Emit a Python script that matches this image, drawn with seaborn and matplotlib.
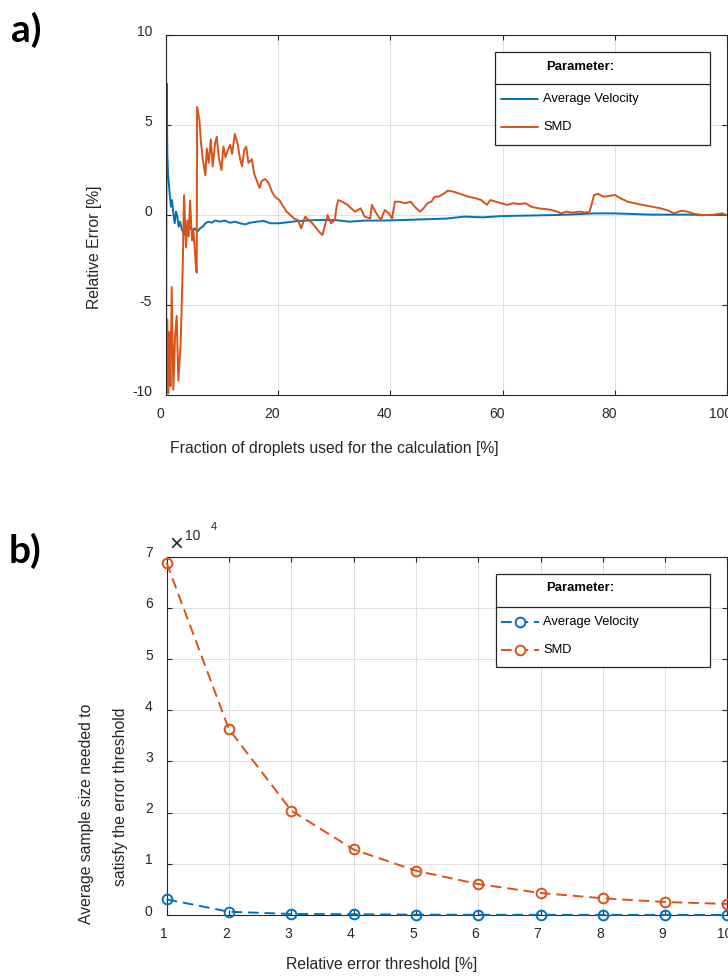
import numpy as np
import pandas as pd
import matplotlib
matplotlib.use("Agg")
import matplotlib.pyplot as plt
from matplotlib.transforms import ScaledTranslation
from matplotlib.lines import Line2D
from matplotlib.patches import Rectangle
import seaborn as sns

# ---------------- panel a: running relative error ----------------
vel_frac = [0.0, 0.12, 0.24, 0.36, 0.54, 0.71, 0.89, 1.07, 1.31, 1.55, 1.79, 2.02,
            2.26, 2.5, 2.86, 3.21, 3.69, 4.17, 4.64, 5.12, 5.6, 6.07, 6.55, 7.02,
            7.56, 8.15, 8.75, 9.64, 10.5, 11.4, 12.3, 13.2, 14.1, 15.0, 16.2, 17.4,
            18.6, 20.1, 21.55, 23.3, 25.1, 26.8, 30.1, 32.7, 35.4, 38.7, 42.0, 45.9,
            49.9, 53.2, 56.5, 59.8, 63.1, 66.4, 69.7, 73.0, 76.3, 79.6, 82.9, 86.3,
            89.6, 92.9, 96.2, 100.0]
vel_err = [-10.0, 7.3, 3.4, 2.3, 1.6, 1.0, 0.46, 0.83, 0.09, -0.46, 0.19, -0.09,
           -0.65, -0.37, -0.83, -1.1, -0.74, -0.65, -0.83, -0.74, -0.93, -0.74, -0.65, -0.46,
           -0.37, -0.43, -0.31, -0.37, -0.31, -0.43, -0.37, -0.46, -0.52, -0.43, -0.37, -0.33,
           -0.46, -0.46, -0.41, -0.34, -0.31, -0.28, -0.28, -0.37, -0.31, -0.31, -0.28, -0.24,
           -0.2, -0.09, -0.13, -0.06, -0.04, -0.02, 0.0, 0.04, 0.09, 0.09, 0.06, 0.02,
           0.02, 0.02, 0.0, 0.0]

smd_frac = [0.24, 0.4, 0.6, 0.8, 1.01, 1.31, 1.6, 1.9, 2.2, 2.62, 2.98, 3.21, 3.57,
            3.81, 4.05, 4.29, 4.64, 4.88, 5.12, 5.36, 5.48, 5.54, 5.95, 6.19, 6.55,
            7.02, 7.26, 7.62, 7.98, 8.33, 8.75, 9.05, 9.4, 9.88, 10.24, 10.6, 11.0,
            11.43, 11.79, 12.26, 12.74, 13.21, 13.57, 13.93, 14.29, 14.7, 15.3, 15.71,
            16.19, 16.67, 17.08, 17.68, 18.27, 18.87, 19.46, 20.2, 21.5, 22.8, 23.5,
            24.1, 24.8, 25.4, 26.1, 26.8, 27.3, 27.9, 28.2, 28.8, 29.4, 30.1, 30.4,
            30.7, 31.4, 32.4, 33.0, 33.7, 34.7, 35.4, 36.4, 36.7, 37.3, 38.3, 39.0,
            39.7, 40.3, 40.8, 41.6, 42.6, 43.6, 44.6, 45.3, 45.9, 46.6, 47.3, 47.9,
            48.6, 49.6, 50.2, 51.2, 52.5, 53.9, 55.2, 56.2, 57.2, 57.8, 58.8, 59.8,
            60.8, 61.8, 63.1, 64.1, 65.1, 66.4, 67.7, 68.7, 69.7, 70.4, 71.4, 72.4,
            73.7, 74.7, 75.5, 76.0, 76.3, 77.0, 78.0, 79.0, 80.0, 81.0, 82.3, 83.6,
            85.0, 86.6, 88.2, 89.6, 90.5, 91.9, 92.9, 94.2, 95.5, 96.8, 98.1, 99.1,
            100.0]
smd_err = [-5.8, -9.9, -6.5, -9.5, -4.0, -9.7, -6.8, -5.6, -9.2, -7.1, -2.9, 1.1, -1.8,
           -0.3, -1.2, 0.8, -1.4, -0.8, -1.9, -3.0, -3.2, 6.0, 5.3, 4.2, 3.1,
           2.2, 3.7, 2.9, 4.2, 2.7, 4.0, 4.35, 3.2, 2.5, 3.8, 3.2, 3.6,
           3.9, 3.4, 4.5, 4.0, 3.1, 2.7, 3.6, 3.8, 2.9, 3.1, 2.3,
           1.9, 1.5, 1.9, 2.0, 1.8, 1.3, 1.0, 0.83, 0.19, -0.19, -0.28,
           -0.74, -0.09, -0.28, -0.46, -0.74, -0.93, -1.11, -0.74, 0.0, -0.46, -0.28, 0.46,
           0.83, 0.74, 0.56, 0.37, 0.19, 0.37, -0.09, -0.19, 0.56, 0.19, -0.28, 0.28,
           0.09, -0.19, 0.74, 0.74, 0.65, 0.74, 0.37, 0.19, 0.37, 0.65, 0.74, 1.02,
           1.02, 1.2, 1.35, 1.3, 1.17, 1.02, 0.93, 0.83, 0.56, 0.83, 0.74, 0.65,
           0.56, 0.65, 0.61, 0.65, 0.46, 0.37, 0.33, 0.28, 0.19, 0.09, 0.19, 0.13,
           0.19, 0.13, 0.19, 0.74, 1.11, 1.17, 1.02, 1.06, 1.11, 0.93, 0.74, 0.65,
           0.56, 0.46, 0.37, 0.24, 0.09, 0.24, 0.19, 0.06, 0.0, 0.0, 0.04, 0.09,
           0.0]

# ---------------- panel b: required sample size ----------------
threshold = [1, 2, 3, 4, 5, 6, 7, 8, 9, 10]
vel_samples = [3060, 640, 200, 150, 60, 40, 30, 25, 20, 15]
smd_samples = [68800, 36300, 20400, 12800, 8650, 6050, 4300, 3260, 2540, 2150]

series_names = ["Average Velocity", "SMD"]
series_colors = ["#0072BD", "#D95319"]

# ---------------- styling ----------------
W, H = 728, 976
DPI = 100
sns.set_theme(style="whitegrid")
plt.rcParams["font.family"] = ["Liberation Sans", "DejaVu Sans"]
TXT = "#262626"
plt.rcParams.update({
    "axes.edgecolor": TXT,
    "axes.linewidth": 0.8,
    "axes.unicode_minus": False,
    "grid.color": "#dedede",
    "grid.linewidth": 0.7,
    "text.color": TXT,
    "xtick.color": TXT,
    "ytick.color": TXT,
})

fig = plt.figure(figsize=(W / DPI, H / DPI), dpi=DPI)


def fig_box(x0, y0, x1, y1):
    return [x0 / W, 1 - y1 / H, (x1 - x0) / W, (y1 - y0) / H]


def fx(x):
    return x / W


def fy(y):
    return 1 - y / H


def style_axes(ax, dx_lab, dy_lab):
    ax.tick_params(axis="both", which="both", direction="in", length=3.6, width=0.8,
                   top=True, right=True, bottom=True, left=True,
                   labelsize=10, colors=TXT)
    ax.tick_params(axis="y", pad=10)
    ax.tick_params(axis="x", pad=9)
    for sp in ax.spines.values():
        sp.set_visible(True)
        sp.set_color(TXT)
        sp.set_linewidth(0.8)
    ax.grid(True, color="#dedede", linewidth=0.7)
    ax.set_axisbelow(True)
    off_x = ScaledTranslation(dx_lab / DPI, 0, fig.dpi_scale_trans)
    off_y = ScaledTranslation(0, dy_lab / DPI, fig.dpi_scale_trans)
    for lab in ax.get_xticklabels():
        lab.set_transform(lab.get_transform() + off_x)
    for lab in ax.get_yticklabels():
        lab.set_transform(lab.get_transform() + off_y)


def draw_legend(box, div_y, title_y, entry_y, dashed):
    x0, y0, x1, y1 = box
    fig.patches.append(Rectangle((fx(x0), fy(y1)), (x1 - x0) / W, (y1 - y0) / H,
                                 transform=fig.transFigure, facecolor="white",
                                 edgecolor=TXT, linewidth=0.9, zorder=10))
    fig.lines.append(Line2D([fx(x0), fx(x1)], [fy(div_y), fy(div_y)],
                            transform=fig.transFigure, color=TXT, lw=0.9, zorder=11))
    fig.text(fx(580), fy(title_y), "Parameter:", ha="center", va="center",
             fontsize=9.4, fontweight="bold", color="black", zorder=12)
    for name, col, yy in zip(series_names, series_colors, entry_y):
        if dashed:
            fig.lines.append(Line2D([fx(501), fx(539)], [fy(yy), fy(yy)],
                                    transform=fig.transFigure, color=col, lw=1.4,
                                    linestyle=(0, (5.5, 3)), zorder=12))
            fig.lines.append(Line2D([fx(520)], [fy(yy)], transform=fig.transFigure,
                                    color=col, marker="o", markersize=7,
                                    markerfacecolor="white", markeredgecolor=col,
                                    markeredgewidth=1.4, zorder=13))
        else:
            fig.lines.append(Line2D([fx(501), fx(538)], [fy(yy), fy(yy)],
                                    transform=fig.transFigure, color=col, lw=1.4,
                                    zorder=12))
        fig.text(fx(543), fy(yy), name, ha="left", va="center", fontsize=9.3,
                 color="black", zorder=12)


# ---------------- panel a ----------------
ax1 = fig.add_axes(fig_box(166, 35, 727, 395))
df_a = pd.concat([
    pd.DataFrame({"frac": vel_frac, "err": vel_err, "param": series_names[0]}),
    pd.DataFrame({"frac": smd_frac, "err": smd_err, "param": series_names[1]}),
], ignore_index=True)
sns.lineplot(data=df_a, x="frac", y="err", hue="param", palette=series_colors,
             sort=False, estimator=None, linewidth=1.4, legend=False, ax=ax1)
ax1.set_xlim(0, 100)
ax1.set_ylim(-10, 10)
ax1.set_xticks([0, 20, 40, 60, 80, 100])
ax1.set_yticks([-10, -5, 0, 5, 10])
ax1.set_xlabel("")
ax1.set_ylabel("")
style_axes(ax1, -6, 5)

fig.text(fx(170), fy(448), "Fraction of droplets used for the calculation [%]",
         ha="left", va="center", fontsize=11.3, color=TXT)
fig.text(fx(95), fy(247), "Relative Error [%]", rotation=90, ha="center",
         va="center", fontsize=11.3, color=TXT)
draw_legend((495, 52.5, 710, 144.5), 84.3, 66.7, (99, 127), dashed=False)

# ---------------- panel b ----------------
ax2 = fig.add_axes(fig_box(166.6, 556.7, 727.5, 915))
for name, col, vals in zip(series_names, series_colors, [vel_samples, smd_samples]):
    df_b = pd.DataFrame({"thr": threshold, "n": vals})
    sns.lineplot(data=df_b, x="thr", y="n", color=col, linewidth=1.4,
                 linestyle=(0, (5.5, 3)), marker="o", markersize=7,
                 markerfacecolor="none", markeredgecolor=col, markeredgewidth=1.4,
                 clip_on=False, zorder=4, ax=ax2)
ax2.set_xlim(1, 10)
ax2.set_ylim(0, 70000)
ax2.set_xticks(threshold)
ax2.set_yticks([0, 10000, 20000, 30000, 40000, 50000, 60000, 70000])
ax2.set_yticklabels(["0", "1", "2", "3", "4", "5", "6", "7"])
ax2.set_xlabel("")
ax2.set_ylabel("")
style_axes(ax2, -3, 5)

# scale factor of the y axis
fig.text(fx(176), fy(545), "\u00d7", ha="center", va="center", fontsize=17,
         fontweight="light", color=TXT)
fig.text(fx(185), fy(536), "10", ha="left", va="center", fontsize=10, color=TXT)
fig.text(fx(214), fy(527), "4", ha="center", va="center", fontsize=8, color=TXT)

fig.text(fx(286), fy(965), "Relative error threshold [%]", ha="left", va="center",
         fontsize=11.3, color=TXT)
fig.text(fx(87), fy(814), "Average sample size needed to", rotation=90,
         ha="center", va="center", fontsize=11.3, color=TXT)
fig.text(fx(121), fy(796.5), "satisfy the error threshold", rotation=90,
         ha="center", va="center", fontsize=11.3, color=TXT)
draw_legend((495.8, 574.3, 709.5, 666.7), 606.7, 588, (621.7, 650), dashed=True)

# panel letters
fig.text(fx(11), fy(42), "a)", ha="left", va="baseline", fontsize=28,
         fontweight="bold", family=["Lato", "DejaVu Sans"], color="black")
fig.text(fx(9), fy(563), "b)", ha="left", va="baseline", fontsize=28,
         fontweight="bold", family=["Lato", "DejaVu Sans"], color="black")

fig.savefig("out.png", dpi=DPI)
